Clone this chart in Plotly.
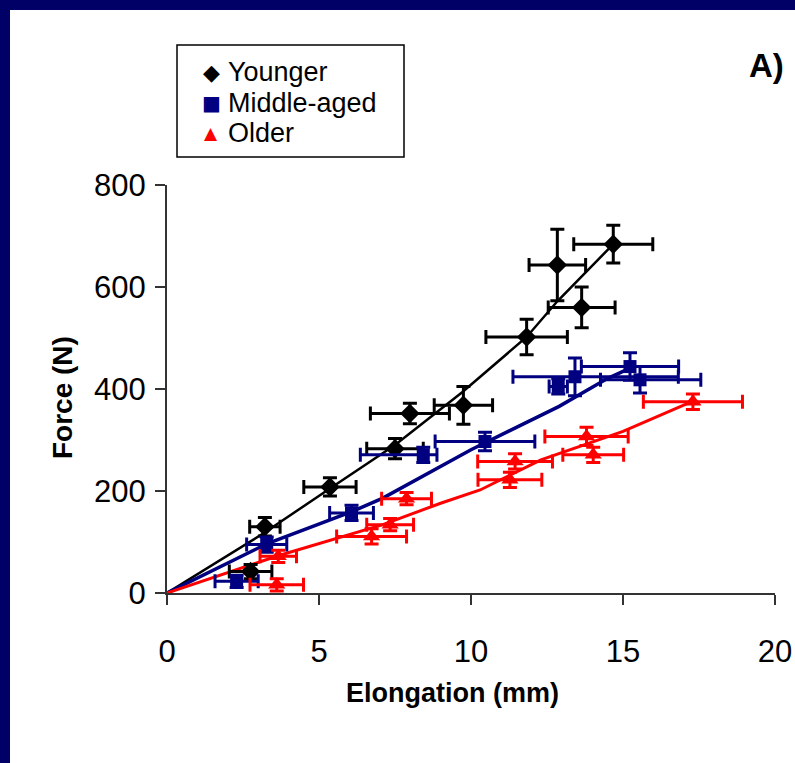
import plotly.graph_objects as go

# ---------------- data ----------------
young_x = [2.75, 3.22, 5.36, 7.5, 7.99, 9.75, 11.83, 12.84, 13.64, 14.68]
young_y = [42, 130, 208, 283, 352, 368, 502, 643, 560, 684]
young_xerr = [0.7, 0.5, 0.86, 0.93, 1.3, 0.96, 1.34, 0.93, 1.1, 1.3]
young_yerr = [14, 18, 18, 20, 20, 37, 35, 70, 40, 37]

mid_x = [2.29, 3.28, 6.07, 8.43, 10.46, 12.87, 13.42, 15.23, 15.56]
mid_y = [23, 95, 157, 271, 297, 405, 424, 444, 418]
mid_xerr_plus = [0.71, 0.66, 0.72, 0.45, 1.64, 0.3, 3.4, 1.6, 2.0]
mid_xerr_minus = [0.71, 0.66, 0.72, 2.07, 1.64, 0.3, 2.04, 1.6, 1.3]
mid_yerr = [12, 15, 15, 15, 18, 15, 37, 27, 26]

old_x = [3.61, 3.66, 6.73, 7.34, 7.88, 11.28, 11.45, 13.8, 14.02, 17.3]
old_y = [16, 72, 111, 134, 185, 222, 258, 307, 271, 375]
old_xerr = [0.88, 0.6, 1.15, 0.77, 0.82, 1.05, 1.23, 1.37, 1.0, 1.63]
old_yerr = [12, 12, 15, 12, 12, 15, 15, 18, 15, 15]

# mean curves
young_line_x = [0, 3.2, 5.36, 7.5, 9.7, 11.83, 12.84, 14.68]
young_line_y = [0, 118, 205, 290, 393, 502, 572, 684]
mid_line_x = [0, 3.3, 6.1, 7.1, 10.0, 12.9, 14.5, 15.2]
mid_line_y = [0, 97, 160, 186, 281, 366, 421, 440]
old_line_x = [0, 3.6, 7.1, 9.0, 10.3, 12.3, 15.0, 17.3]
old_line_y = [0, 72, 134, 176, 202, 261, 317, 376]

group_names = ["Younger", "Middle-aged", "Older"]
x_ticks = [0, 5, 10, 15, 20]
y_ticks = [0, 200, 400, 600, 800]

BLACK = "#000000"
NAVY = "#000080"
RED = "#ff0000"
BG = "#000066"
AXIS = "#333333"
FONT = "Liberation Sans, Arial, sans-serif"

fig = go.Figure()

# mean curves
for lx, ly, c, w in [(young_line_x, young_line_y, BLACK, 2.5), (mid_line_x, mid_line_y, NAVY, 3.5),
                     (old_line_x, old_line_y, RED, 3)]:
    fig.add_trace(go.Scatter(x=lx, y=ly, mode="lines", line=dict(color=c, width=w),
                             showlegend=False, hoverinfo="skip"))

fig.add_trace(go.Scatter(
    x=young_x, y=young_y, mode="markers", name=group_names[0], showlegend=False,
    marker=dict(symbol="diamond", size=15, color=BLACK),
    error_x=dict(type="data", array=young_xerr, color=BLACK, thickness=3, width=7),
    error_y=dict(type="data", array=young_yerr, color=BLACK, thickness=3, width=7),
))
fig.add_trace(go.Scatter(
    x=mid_x, y=mid_y, mode="markers", name=group_names[1], showlegend=False,
    marker=dict(symbol="square", size=13, color=NAVY),
    error_x=dict(type="data", array=mid_xerr_plus, arrayminus=mid_xerr_minus, symmetric=False,
                 color=NAVY, thickness=3, width=7),
    error_y=dict(type="data", array=mid_yerr, color=NAVY, thickness=3, width=7),
))
fig.add_trace(go.Scatter(
    x=old_x, y=old_y, mode="markers", name=group_names[2], showlegend=False,
    marker=dict(symbol="triangle-up", size=15, color=RED),
    error_x=dict(type="data", array=old_xerr, color=RED, thickness=3, width=7),
    error_y=dict(type="data", array=old_yerr, color=RED, thickness=3, width=7),
))

L, R, T, B = 167, 20, 185, 170
W, H = 795, 763
pw, ph = W - L - R, H - T - B


def px_x(px):
    return (px - L) / pw


def px_y(py):
    return (H - B - py) / ph


# white slide panel
fig.add_shape(type="rect", xref="paper", yref="paper",
              x0=px_x(10), x1=px_x(805), y0=px_y(775), y1=px_y(10),
              fillcolor="white", line=dict(width=0), layer="below")

# legend box
fig.add_shape(type="rect", xref="paper", yref="paper",
              x0=px_x(177), x1=px_x(404), y0=px_y(157), y1=px_y(45),
              fillcolor="white", line=dict(color="black", width=1.5), layer="above")

legend_symbols = ["◆", "■", "▲"]
legend_colors = [BLACK, NAVY, RED]
legend_sym_size = [22, 20, 17]
legend_y = [72, 103, 133]
for name, sym, col, ss, ly in zip(group_names, legend_symbols, legend_colors, legend_sym_size, legend_y):
    fig.add_annotation(text=sym, xref="paper", yref="paper", x=px_x(211), y=px_y(ly),
                       xanchor="center", yanchor="middle", showarrow=False,
                       font=dict(family="DejaVu Sans", size=ss, color=col))
    fig.add_annotation(text=name, xref="paper", yref="paper", x=px_x(226), y=px_y(ly),
                       xanchor="left", yanchor="middle", showarrow=False,
                       font=dict(family=FONT, size=27, color="black"))

fig.add_annotation(text="<b>Force (N)</b>", xref="paper", yref="paper",
                   x=px_x(62), y=px_y(398), textangle=-90, xanchor="center", yanchor="middle",
                   showarrow=False, font=dict(family=FONT, size=28, color="black"))
fig.add_annotation(text="<b>Elongation (mm)</b>", xref="paper", yref="paper",
                   x=px_x(452), y=px_y(693), xanchor="center", yanchor="middle",
                   showarrow=False, font=dict(family=FONT, size=27, color="black"))
fig.add_annotation(text="<b>A)</b>", xref="paper", yref="paper",
                   x=px_x(766), y=px_y(66), xanchor="center", yanchor="middle",
                   showarrow=False, font=dict(family=FONT, size=33, color="black"))

fig.update_layout(
    width=W, height=H,
    margin=dict(l=L, r=R, t=T, b=B, pad=0, autoexpand=False),
    paper_bgcolor=BG, plot_bgcolor="white",
    font=dict(family=FONT, color="black"),
    showlegend=False,
)
fig.update_xaxes(range=[0, 20], tickvals=x_ticks, ticks="outside", ticklen=10, tickwidth=2,
                 tickcolor=AXIS, showline=True, linecolor=AXIS, linewidth=2, automargin=False,
                 showgrid=False, zeroline=False, tickfont=dict(size=31), ticklabelstandoff=20)
fig.update_yaxes(range=[0, 800], tickvals=y_ticks, ticks="outside", ticklen=10, tickwidth=2,
                 tickcolor=AXIS, showline=True, linecolor=AXIS, linewidth=2, automargin=False,
                 showgrid=False, zeroline=False, tickfont=dict(size=31), ticklabelstandoff=3)

fig.write_html(
    "out.html",
    config={"displayModeBar": False},
    post_script="document.documentElement.style.margin='0';document.body.style.margin='0';"
                "document.body.style.background='#000066';document.body.style.overflow='hidden';",
)
